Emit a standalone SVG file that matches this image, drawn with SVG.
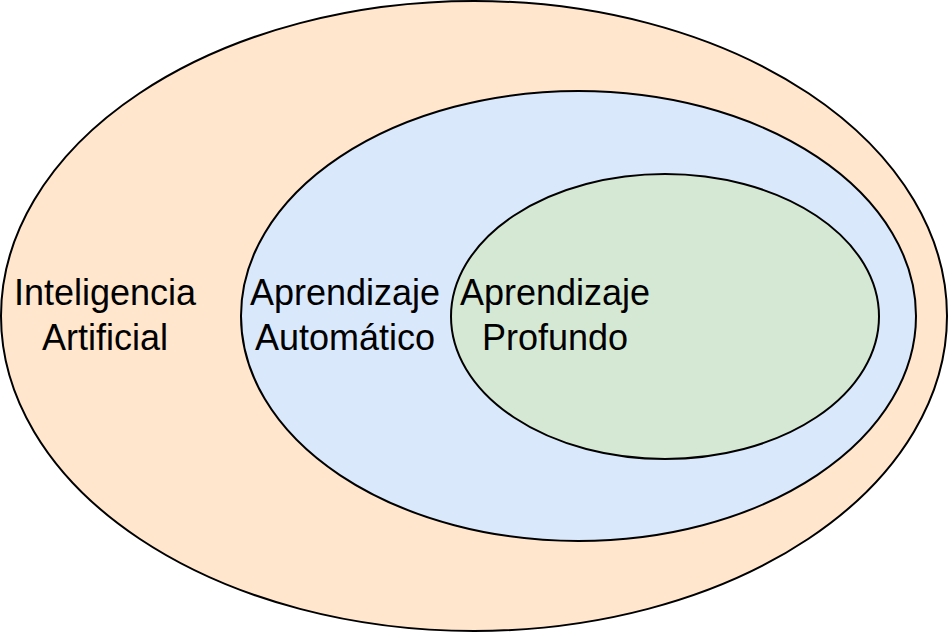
<svg xmlns="http://www.w3.org/2000/svg" width="948" height="633" viewBox="0 0 948 633">
<style>
.e{stroke:#000;stroke-width:2}
.t{font-family:"Liberation Sans",Arial,sans-serif;font-size:36px;fill:#000;text-anchor:middle}
</style>
<rect width="948" height="633" fill="#fff"/>
<g id="ia">
<ellipse class="e" cx="474" cy="316" rx="473" ry="315" fill="#ffe6cc"/>
<text class="t" x="105" y="305">Inteligencia</text>
<text class="t" x="105" y="350">Artificial</text>
</g>
<g id="aa">
<ellipse class="e" cx="578.5" cy="316" rx="337.5" ry="225" fill="#dae8fc"/>
<text class="t" x="345" y="305">Aprendizaje</text>
<text class="t" x="345" y="350">Automático</text>
</g>
<g id="ap">
<ellipse class="e" cx="665" cy="316.5" rx="214" ry="142.5" fill="#d5e8d4"/>
<text class="t" x="555" y="305">Aprendizaje</text>
<text class="t" x="555" y="350">Profundo</text>
</g>
<g id="connectors"/>
</svg>
